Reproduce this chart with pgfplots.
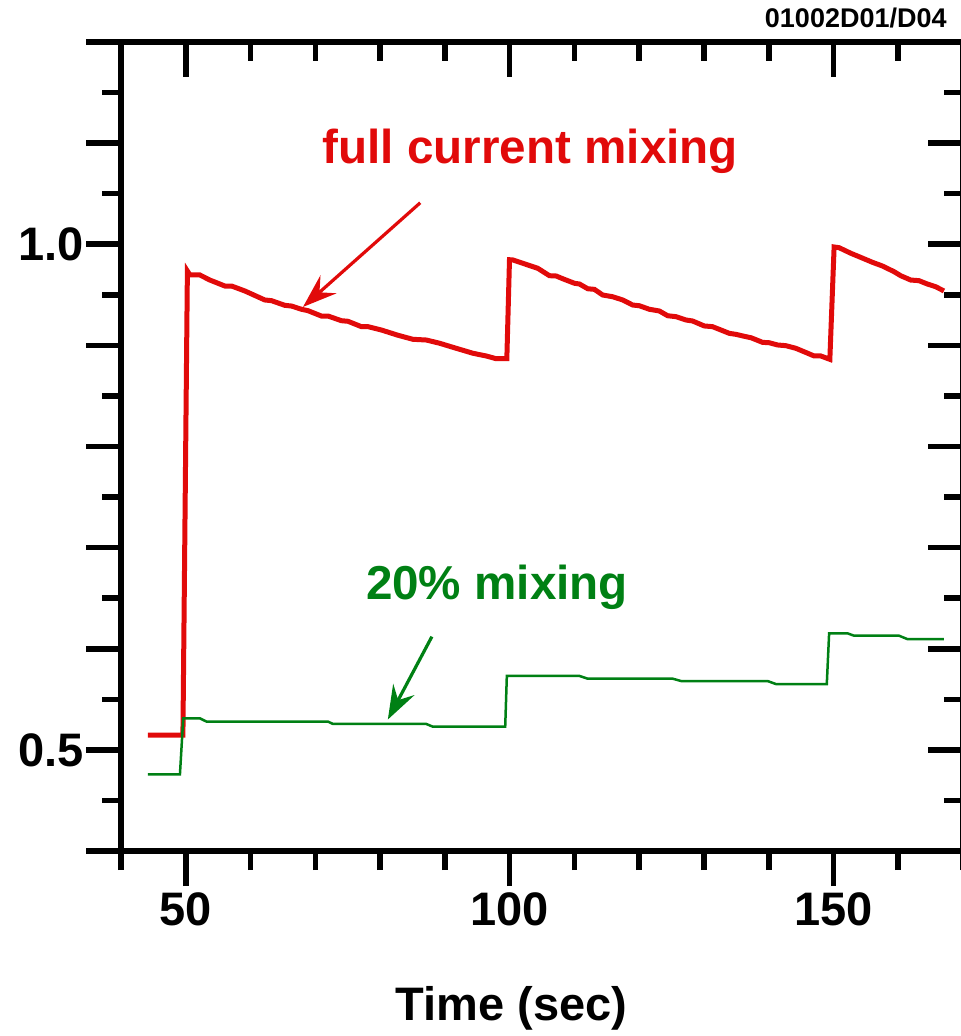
\documentclass[border=0pt]{standalone}
\usepackage{pgfplots}
\pgfplotsset{compat=1.18}
\usepackage{fontspec}
\setmainfont{Liberation Sans}
\usetikzlibrary{arrows.meta}
\definecolor{myred}{RGB}{225,10,10}
\definecolor{mygreen}{RGB}{0,128,20}
\newcommand{\bigfont}{\fontsize{23.5}{28}\selectfont\bfseries}
\begin{document}
\begin{tikzpicture}
\pgfplotsset{
  common/.style={
    at={(0,0)}, anchor=south west,
    scale only axis, width=421pt, height=404.5pt,
    xmin=40, xmax=170, ymin=0.4, ymax=1.2,
    xtick={50,100,150},
    minor xtick={40,60,70,80,90,110,120,130,140,160,170},
    ytick={0.4,0.5,0.6,0.7,0.8,0.9,1.0,1.1,1.2},
    minor ytick={0.45,0.55,0.65,0.75,0.85,0.95,1.05,1.15},
    major tick length=17.5pt, minor tick length=9.5pt,
    tick style={line width=2.8pt, black},
    axis line style={line width=3pt, -},
  }
}
\begin{axis}[common,
  axis x line*=bottom, axis y line*=left, tick align=outside,
  xticklabels={50,100,150},
  yticklabels={{},0.5,{},{},{},{},1.0,{},{}},
  ticklabel style={font=\bigfont},
  yticklabel style={xshift=2.5pt},
  clip=false]
\addplot[myred, line width=2.5pt] coordinates {
(44.16,0.5147) (49.56,0.5147) (50.25,0.9735) (50.64,0.9696) (52.18,0.9696)
(53.72,0.9646) (56.04,0.9587) (57.07,0.9587) (59.12,0.9538) (62.20,0.9449)
(63.24,0.9442) (65.29,0.9396) (66.32,0.9389) (67.86,0.9357) (68.88,0.9343)
(70.95,0.9290) (71.97,0.9290) (74.03,0.9244) (75.05,0.9238) (77.12,0.9185)
(78.13,0.9185) (80.20,0.9152) (82.76,0.9100) (85.07,0.9060) (87.14,0.9053)
(89.19,0.9021) (91.24,0.8981) (94.33,0.8922) (96.39,0.8895) (97.93,0.8868)
(99.57,0.8868) (99.98,0.9847) (100.49,0.9845) (102.81,0.9795) (104.35,0.9762)
(106.15,0.9689) (107.19,0.9686) (108.20,0.9659) (110.01,0.9614) (110.78,0.9607)
(112.06,0.9560) (113.09,0.9554) (114.37,0.9498) (115.91,0.9481) (117.46,0.9449)
(119.00,0.9399) (120.03,0.9392) (121.57,0.9357) (123.12,0.9340) (124.40,0.9293)
(125.69,0.9284) (127.23,0.9251) (128.25,0.9241) (130.05,0.9192) (131.33,0.9185)
(133.91,0.9119) (134.94,0.9109) (136.48,0.9086) (137.25,0.9076) (139.04,0.9030)
(140.08,0.9026) (141.36,0.9004) (142.65,0.8997) (144.19,0.8971) (145.47,0.8937)
(147.02,0.8895) (148.05,0.8895) (149.44,0.8862) (150.10,0.9973) (150.87,0.9966)
(152.67,0.9911) (153.95,0.9877) (156.00,0.9822) (157.55,0.9785) (159.35,0.9729)
(160.38,0.9689) (161.93,0.9646) (163.20,0.9640) (164.49,0.9607) (165.78,0.9580)
(167.06,0.9538)
};
\addplot[mygreen, line width=1.25pt] coordinates {
(44.16,0.4757) (49.10,0.4757) (49.61,0.5312) (52.18,0.5312) (53.22,0.5279)
(71.97,0.5279) (72.74,0.5256) (87.14,0.5256) (88.16,0.5229) (99.32,0.5229)
(99.57,0.5731) (110.78,0.5731) (112.06,0.5704) (125.17,0.5704) (126.46,0.5681)
(139.82,0.5681) (141.11,0.5651) (148.97,0.5651) (149.33,0.6153) (152.15,0.6153)
(153.18,0.6129) (160.12,0.6129) (161.40,0.6096) (167.06,0.6096)
};
\node[myred, font=\fontsize{23.8}{28}\selectfont\bfseries, anchor=base] at (axis cs:103.2,1.0795) {full current mixing};
\node[mygreen, font=\fontsize{23.8}{28}\selectfont\bfseries, anchor=base] at (axis cs:98.05,0.649) {20\% mixing};
\draw[myred, line width=1.6pt, -{Stealth[length=17pt,width=12pt,inset=6pt]}] (axis cs:86.2,1.041) -- (axis cs:68.1,0.938);
\draw[mygreen, line width=1.6pt, -{Stealth[length=17pt,width=12pt,inset=6pt]}] (axis cs:88.0,0.612) -- (axis cs:81.2,0.530);
\node[font=\bigfont, anchor=base] at (axis cs:100.3,0.232) {Time (sec)};
\node[font=\fontsize{13.5}{16}\selectfont\bfseries, anchor=base east, inner sep=0pt] at (axis cs:167.53,1.2139) {01002D01/D04};
\end{axis}
\begin{axis}[common,
  axis x line*=top, axis y line*=right, tick align=inside,
  xticklabels={}, yticklabels={}]
\end{axis}
\pgfresetboundingbox
\path[use as bounding box] (-60.5pt,-92.5pt) rectangle (420pt,425.5pt);
\end{tikzpicture}
\end{document}
